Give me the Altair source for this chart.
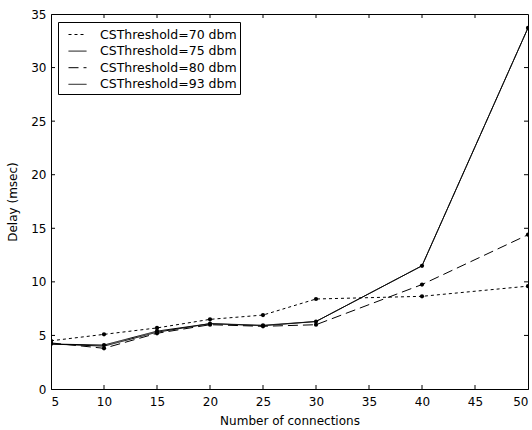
import altair as alt
import pandas as pd

# ---- data ----
connections = [5, 10, 15, 20, 25, 30, 40, 50]
series_names = ["CSThreshold=70 dbm", "CSThreshold=75 dbm",
                "CSThreshold=80 dbm", "CSThreshold=93 dbm"]
delay_70 = [4.5, 5.1, 5.7, 6.5, 6.9, 8.4, 8.65, 9.6]
delay_75 = [4.2, 4.1, 5.4, 6.1, 5.95, 6.3, 11.5, 33.7]
delay_80 = [4.3, 3.8, 5.2, 6.0, 5.85, 6.0, 9.75, 14.4]
delay_93 = [4.2, 4.0, 5.3, 6.1, 5.9, 6.3, 11.5, 33.7]
has_marker = [True, True, True, False]

x_ticks = [5, 10, 15, 20, 25, 30, 35, 40, 45, 50]
y_ticks = [0, 5, 10, 15, 20, 25, 30, 35]
x_inner_ticks = [10, 15, 20, 25, 30, 35, 40, 45]
y_inner_ticks = [5, 10, 15, 20, 25, 30]

rows = []
for name, vals, mk in zip(series_names, [delay_70, delay_75, delay_80, delay_93], has_marker):
    for c, v in zip(connections, vals):
        rows.append({"connections": c, "delay": v, "series": name, "marker": mk})
df = pd.DataFrame(rows)

W, H = 477, 375
FONT = "DejaVu Sans"

x_scale = alt.Scale(domain=[5, 50], nice=False)
y_scale = alt.Scale(domain=[0, 35], nice=False)

x_axis = alt.Axis(values=x_ticks, title="Number of connections", format="d",
                  tickSize=0, labelPadding=7, titlePadding=8, grid=False)
y_axis = alt.Axis(values=y_ticks, title="Delay (msec)", format="d",
                  tickSize=0, labelPadding=5, titlePadding=11, grid=False)

lines = alt.Chart(df).mark_line(color="black", strokeWidth=1, clip=True).encode(
    x=alt.X("connections:Q", scale=x_scale, axis=x_axis),
    y=alt.Y("delay:Q", scale=y_scale, axis=y_axis),
    strokeDash=alt.StrokeDash(
        "series:N",
        scale=alt.Scale(domain=series_names, range=[[3, 3], [1, 0], [10, 5], [1, 0]]),
        legend=alt.Legend(
            title=None, orient="none", legendX=7, legendY=8,
            strokeColor="black", fillColor="white", padding=3, cornerRadius=0,
            symbolType="stroke", symbolSize=324, symbolStrokeWidth=1,
            symbolStrokeColor="black", symbolOffset=7,
            labelFont=FONT, labelFontSize=12.5, labelColor="black",
            labelOffset=13, rowPadding=0.6,
        ),
    ),
)

points = alt.Chart(df[df["marker"]]).mark_point(
    filled=True, shape="circle", size=18, color="black", opacity=1, clip=True
).encode(
    x=alt.X("connections:Q", scale=x_scale, axis=x_axis),
    y=alt.Y("delay:Q", scale=y_scale, axis=y_axis),
)

xt = pd.DataFrame({"v": x_inner_ticks})
yt = pd.DataFrame({"v": y_inner_ticks})

tick_bottom = alt.Chart(xt).mark_rule(color="black", strokeWidth=1).encode(
    x=alt.X("v:Q", scale=x_scale, axis=x_axis), y=alt.value(H), y2=alt.value(H - 4))
tick_top = alt.Chart(xt).mark_rule(color="black", strokeWidth=1).encode(
    x=alt.X("v:Q", scale=x_scale, axis=x_axis), y=alt.value(0), y2=alt.value(4))
tick_left = alt.Chart(yt).mark_rule(color="black", strokeWidth=1).encode(
    y=alt.Y("v:Q", scale=y_scale, axis=y_axis), x=alt.value(0), x2=alt.value(4))
tick_right = alt.Chart(yt).mark_rule(color="black", strokeWidth=1).encode(
    y=alt.Y("v:Q", scale=y_scale, axis=y_axis), x=alt.value(W), x2=alt.value(W - 4))

chart = alt.layer(lines, points, tick_bottom, tick_top, tick_left, tick_right).properties(
    width=W, height=H,
    autosize=alt.AutoSizeParams(type="none"),
    padding={"left": 51, "top": 14, "right": 4, "bottom": 41},
    background="white",
).configure_view(
    stroke="black", strokeWidth=1
).configure_axis(
    labelFont=FONT, labelFontSize=12, labelColor="black",
    titleFont=FONT, titleFontSize=12, titleFontWeight="normal", titleColor="black",
    domainColor="black", domainWidth=1,
)

chart.save("out.html", embed_options={"renderer": "svg", "actions": False})
